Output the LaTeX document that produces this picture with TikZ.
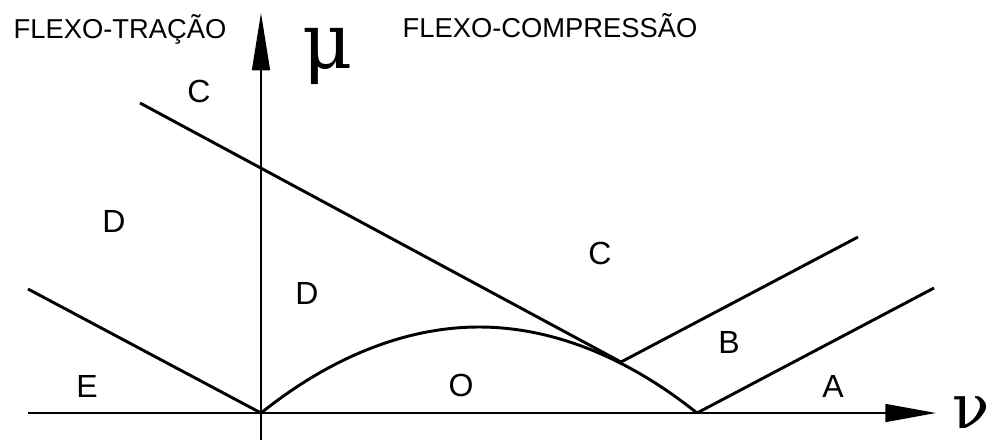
\documentclass[tikz,border=0pt]{standalone}
\usepackage{fontspec}
\setmainfont{Liberation Sans}
\newfontfamily\gregofont{DejaVu Serif}
\usetikzlibrary{arrows.meta}

\begin{document}
\begin{tikzpicture}[
    x=0.75pt, y=-0.75pt,
    eixo/.style={line width=1.1pt},
    reta/.style={line width=2.2pt},
    regiao/.style={anchor=base, font=\fontsize{24}{28}\selectfont},
    titulo/.style={anchor=base west, font=\fontsize{20.5}{24}\selectfont},
    grego/.style={anchor=base west, inner sep=0pt, font=\gregofont\fontsize{58}{64}\selectfont}
]
\useasboundingbox (0,0) rectangle (994,443);

% PONTOS PRINCIPAIS
\coordinate (origem) at (261,413);
\coordinate (tangente) at (621,362);
\coordinate (pico) at (479,327);
\coordinate (nulo) at (697,413);

% EIXOS
\draw[eixo, -{Triangle[length=38pt, width=13.5pt]}] (28,413) -- (936,413);
\draw[eixo, -{Triangle[length=43pt, width=13.5pt]}] (261,440) -- (261,13);
\node[grego] (mu) at (302,68) {μ};
\node[grego, anchor=base east, font=\gregofont\fontsize{46}{50}\selectfont] (nu) at (990,428) {ν};

% RETAS DE SEPARACAO
\draw[reta] (28,289) -- (origem);
\draw[reta] (140,103) -- (tangente);
\draw[reta] (tangente) -- (858,237);
\draw[reta] (nulo) -- (934,288);

% CURVA
\draw[reta] (origem) parabola bend (pico) (nulo);

% TITULOS
\node[titulo] (tracao) at (9,38) {FLEXO-TRAÇÃO};
\node[titulo] (compressao) at (398,37) {FLEXO-COMPRESSÃO};

% REGIOES
\node[regiao] (c1) at (199,102) {C};
\node[regiao] (d1) at (114,232) {D};
\node[regiao] (d2) at (307,304) {D};
\node[regiao] (c2) at (600,264) {C};
\node[regiao] (b) at (729,353) {B};
\node[regiao] (e) at (87,397) {E};
\node[regiao] (o) at (461,396) {O};
\node[regiao] (a) at (833,397) {A};

\end{tikzpicture}
\end{document}
